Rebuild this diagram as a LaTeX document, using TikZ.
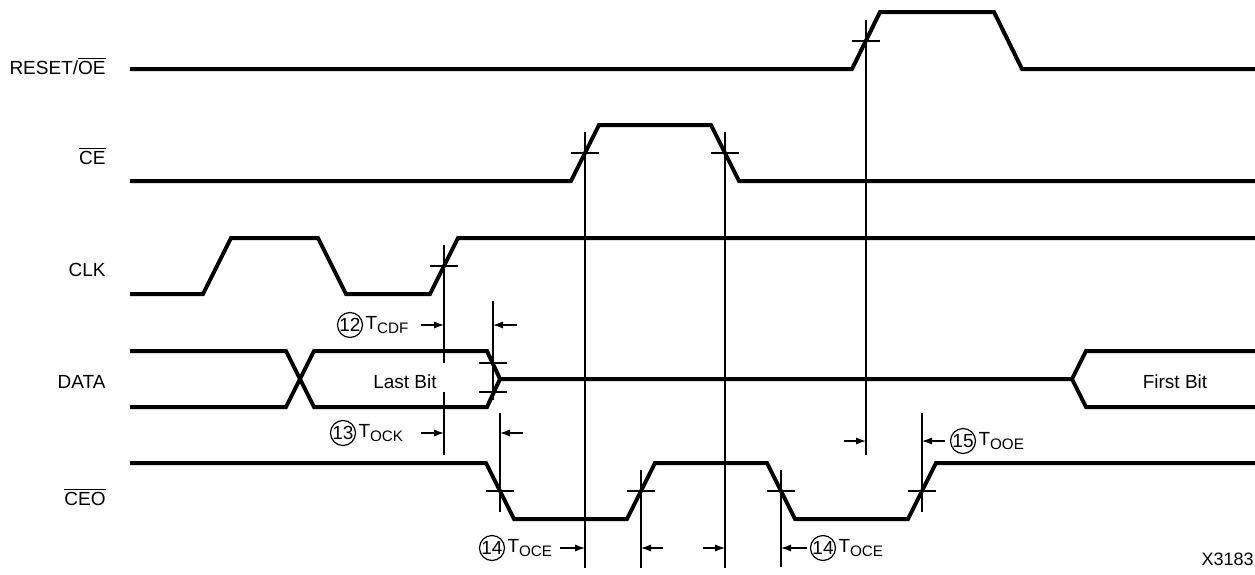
\documentclass[tikz,border=0pt]{standalone}
\usepackage{fontspec}
\setmainfont{Liberation Sans}
\usetikzlibrary{arrows.meta,positioning}

\newcommand{\tsub}[1]{T\raisebox{-0.35ex}{\fontsize{7.6}{8}\selectfont #1}}

\tikzset{
  wave/.style={line width=2pt, line join=miter, miter limit=4},
  guide/.style={line width=0.6pt},
  dimarrow/.style={line width=0.6pt, -{Latex[length=5pt,width=3.6pt]}},
  signame/.style={anchor=east, inner sep=0pt},
  tnum/.style={circle, draw, line width=0.6pt, inner sep=0pt, minimum size=12.5pt},
  tname/.style={right=0.5pt of #1, inner sep=0.5pt},
}

\begin{document}
\begin{tikzpicture}[x=0.5pt, y=-0.5pt, font=\fontsize{9.5}{11}\selectfont]
  \useasboundingbox (0,0) rectangle (1255,574);

  % signal names
  \node[signame] (lrst)  at (106,66)  {RESET/$\overline{\mbox{OE}}$};
  \node[signame] (lce)   at (106,156) {$\overline{\mbox{CE}}$};
  \node[signame] (lclk)  at (106,270) {CLK};
  \node[signame] (ldata) at (106,382) {DATA};
  \node[signame] (lceo)  at (106,497) {$\overline{\mbox{CEO}}$};

  % waveforms
  \draw[wave] (130,69) -- (852,69) -- (880,12) -- (994,12) -- (1022,69) -- (1255,69);
  \draw[wave] (130,181) -- (571,181) -- (599,125) -- (711,125) -- (739,181) -- (1255,181);
  \draw[wave] (130,294) -- (203,294) -- (231,238) -- (318,238) -- (346,294)
              -- (430,294) -- (458,238) -- (1255,238);
  \draw[wave] (130,351) -- (286,351) -- (314,407) -- (487,407) -- (500,379) -- (1072,379);
  \draw[wave] (130,407) -- (286,407) -- (314,351) -- (487,351) -- (500,379);
  \draw[wave] (1255,351) -- (1086,351) -- (1072,379) -- (1086,407) -- (1255,407);
  \draw[wave] (130,463) -- (486,463) -- (514,519) -- (627,519) -- (655,463)
              -- (767,463) -- (795,519) -- (908,519) -- (936,463) -- (1255,463);

  \node (last)  at (405,382)  {Last Bit};
  \node (first) at (1175,382) {First Bit};

  % crossing marks
  \coordinate (rst) at (866,41);
  \coordinate (ceup) at (585,153);
  \coordinate (cedn) at (725,153);
  \coordinate (clk) at (444,266);
  \coordinate (dup) at (493,363);
  \coordinate (ddn) at (493,392);
  \coordinate (ceo1) at (500,491);
  \coordinate (ceo2) at (641,491);
  \coordinate (ceo3) at (781,491);
  \coordinate (ceo4) at (922,491);
  \foreach \c in {rst,ceup,cedn,clk,dup,ddn,ceo1,ceo2,ceo3,ceo4}
    \draw[guide] ([xshift=-7pt]\c) -- ([xshift=7pt]\c);

  % guide lines
  \draw[guide] (866,20) -- (866,455);
  \draw[guide] (585,132) -- (585,568);
  \draw[guide] (725,132) -- (725,568);
  \draw[guide] (444,245) -- (444,363);
  \draw[guide] (444,392) -- (444,455);
  \draw[guide] (493,301) -- (493,400);
  \draw[guide] (500,413) -- (500,512);
  \draw[guide] (641,470) -- (641,568);
  \draw[guide] (781,470) -- (781,567);
  \draw[guide] (922,413) -- (922,512);

  % timing parameters
  \node[tnum] (n12) at (350,325) {12};
  \node[tname=n12] (tcdf) {\tsub{CDF}};
  \draw[dimarrow] (421,325) -- (444,325);
  \draw[dimarrow] (517,325) -- (493,325);

  \node[tnum] (n13) at (343,433) {13};
  \node[tname=n13] (tock) {\tsub{OCK}};
  \draw[dimarrow] (421,433) -- (444,433);
  \draw[dimarrow] (523,433) -- (500,433);

  \node[tnum] (n14a) at (492,548) {14};
  \node[tname=n14a] (toce1) {\tsub{OCE}};
  \draw[dimarrow] (560,548) -- (585,548);
  \draw[dimarrow] (663,548) -- (641,548);
  \draw[dimarrow] (703,548) -- (725,548);

  \draw[dimarrow] (807,548) -- (781,548);
  \node[tnum] (n14b) at (823,548) {14};
  \node[tname=n14b] (toce2) {\tsub{OCE}};

  \draw[dimarrow] (844,441) -- (866,441);
  \draw[dimarrow] (945,441) -- (922,441);
  \node[tnum] (n15) at (963,441) {15};
  \node[tname=n15] (tooe) {\tsub{OOE}};

  \node[anchor=east, inner sep=0pt, font=\fontsize{9}{10}\selectfont] (fig) at (1254,559) {X3183};
\end{tikzpicture}
\end{document}
